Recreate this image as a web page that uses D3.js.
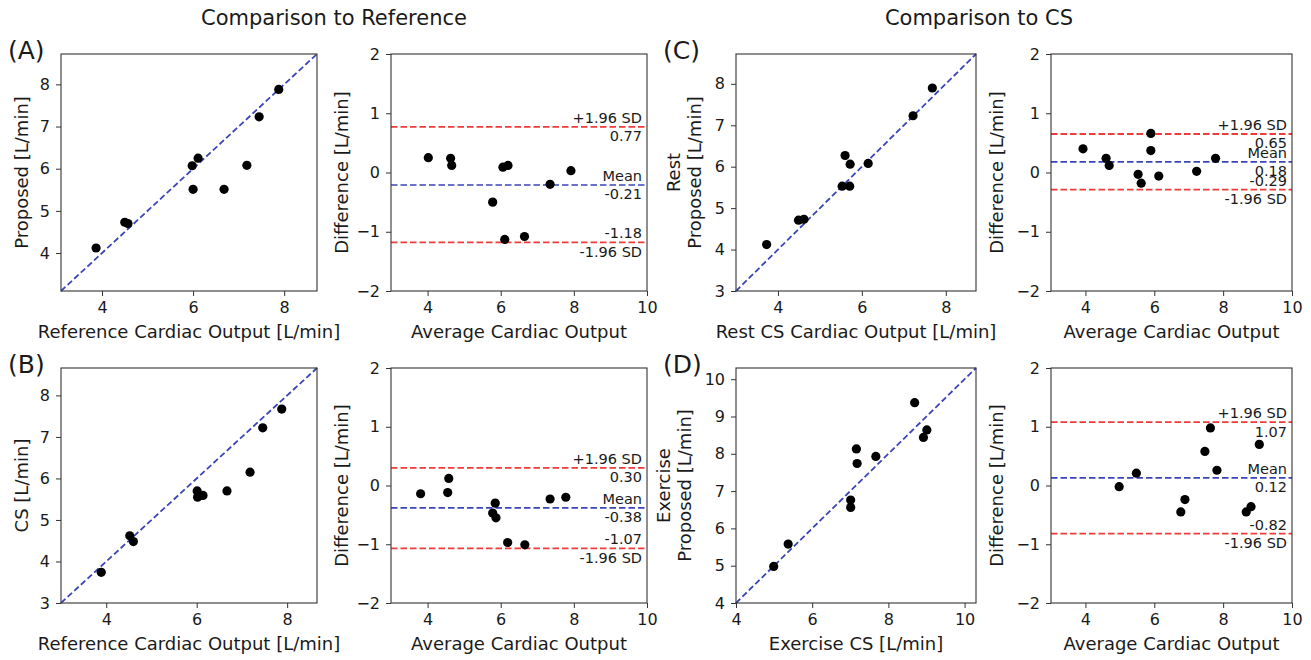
<!DOCTYPE html>
<html><head><meta charset="utf-8">
<script src="https://cdn.jsdelivr.net/npm/d3@7"></script>
<style>
body{margin:0;background:#fff}
text{font-family:"DejaVu Sans",sans-serif;fill:#1a1a1a}
</style>
</head><body>
<svg id="c" width="1311" height="660"></svg>
<script>
// ---------- DATA ----------
const sectionTitles = ["Comparison to Reference", "Comparison to CS"];
const panelLabels = ["(A)", "(B)", "(C)", "(D)"];

// (A) Reference vs Proposed
const scatterA_x = [3.87, 4.50, 4.57, 5.98, 6.11, 6.00, 6.68, 7.18, 7.45, 7.88];
const scatterA_y = [4.12, 4.73, 4.70, 6.07, 6.25, 5.51, 5.51, 6.08, 7.23, 7.88];
const limitsA = [3.1, 8.72];
const xTicksA = [4, 6, 8];
const yTicksA = [4, 5, 6, 7, 8];
const baA_avg = [4.02, 4.63, 4.66, 6.06, 6.20, 5.78, 6.11, 6.65, 7.35, 7.92];
const baA_diff = [0.25, 0.24, 0.12, 0.09, 0.12, -0.50, -1.13, -1.08, -0.20, 0.03];
const baA_stats = [0.77, -0.21, -1.18];
const baA_labels = ["0.77", "-0.21", "-1.18"];

// (B) Reference vs CS
const scatterB_x = [3.89, 4.52, 4.60, 6.01, 6.02, 6.14, 6.67, 7.18, 7.46, 7.88];
const scatterB_y = [3.74, 4.62, 4.48, 5.70, 5.55, 5.59, 5.70, 6.15, 7.22, 7.67];
const limitsB = [3.0, 8.66];
const xTicksB = [4, 6, 8];
const yTicksB = [3, 4, 5, 6, 7, 8];
const baB_avg = [3.81, 4.55, 4.58, 5.85, 5.78, 5.87, 6.19, 6.66, 7.35, 7.78];
const baB_diff = [-0.14, -0.12, 0.12, -0.30, -0.47, -0.55, -0.97, -1.01, -0.23, -0.20];
const baB_stats = [0.30, -0.38, -1.07];
const baB_labels = ["0.30", "-0.38", "-1.07"];

// (C) Rest CS vs Proposed
const scatterC_x = [3.73, 4.49, 4.62, 5.60, 5.72, 6.15, 5.53, 5.71, 7.22, 7.68];
const scatterC_y = [4.12, 4.71, 4.73, 6.27, 6.06, 6.08, 5.53, 5.53, 7.23, 7.90];
const limitsC = [3.0, 8.72];
const xTicksC = [4, 6, 8];
const yTicksC = [3, 4, 5, 6, 7, 8];
const baC_avg = [3.93, 4.60, 4.69, 5.53, 5.62, 5.90, 5.90, 6.13, 7.23, 7.78];
const baC_diff = [0.40, 0.24, 0.12, -0.03, -0.18, 0.66, 0.37, -0.06, 0.02, 0.24];
const baC_stats = [0.65, 0.18, -0.29];
const baC_labels = ["0.65", "0.18", "-0.29"];

// (D) Exercise CS vs Proposed
const scatterD_x = [4.99, 5.37, 7.01, 7.01, 7.16, 7.18, 7.67, 8.69, 8.92, 9.01];
const scatterD_y = [4.98, 5.58, 6.76, 6.56, 8.13, 7.74, 7.93, 9.37, 8.44, 8.64];
const limitsD = [4.0, 10.3];
const xTicksD = [4, 6, 8, 10];
const yTicksD = [4, 5, 6, 7, 8, 9, 10];
const baD_avg = [4.98, 5.48, 6.77, 6.89, 7.47, 7.63, 7.82, 8.67, 8.81, 9.05];
const baD_diff = [-0.02, 0.21, -0.45, -0.24, 0.58, 0.98, 0.26, -0.45, -0.36, 0.70];
const baD_stats = [1.08, 0.13, -0.82];
const baD_labels = ["1.07", "0.12", "-0.82"];

const baXDomain = [3, 10];
const baYDomain = [-2, 2];
const baXTicks = [4, 6, 8, 10];
const baYTicks = [-2, -1, 0, 1, 2];
const baStatNames = ["+1.96 SD", "Mean", "-1.96 SD"];

// ---------- STYLE ----------
const RED = "#ee3b3b", BLUE = "#3a45b8", FRAME = "#333";
const F_TITLE = 21, F_LABEL = 18, F_TICK = 16, F_ANN = 14.5, F_PANEL = 25;

const svg = d3.select("#c");

function styleAxis(g) {
  g.select(".domain").remove();
  g.selectAll(".tick line").attr("stroke", FRAME).attr("stroke-width", 1);
  g.selectAll(".tick text").style("font-size", F_TICK + "px").attr("fill", "#1a1a1a");
}

function frameRect(fr) {
  svg.append("rect").attr("x", fr.x0).attr("y", fr.y0)
    .attr("width", fr.x1 - fr.x0).attr("height", fr.y1 - fr.y0)
    .attr("fill", "none").attr("stroke", FRAME).attr("stroke-width", 1.1);
}

function axes(fr, x, y, xt, yt, xlabel, ylines, yLabelOffset) {
  const gx = svg.append("g").attr("transform", `translate(0,${fr.y1})`)
    .call(d3.axisBottom(x).tickValues(xt).tickSize(5).tickPadding(6).tickFormat(d3.format("d")));
  styleAxis(gx);
  const gy = svg.append("g").attr("transform", `translate(${fr.x0},0)`)
    .call(d3.axisLeft(y).tickValues(yt).tickSize(5).tickPadding(6).tickFormat(d3.format("d")));
  styleAxis(gy);
  svg.append("text").attr("x", (fr.x0 + fr.x1) / 2).attr("y", fr.y1 + 47)
    .attr("text-anchor", "middle").style("font-size", F_LABEL + "px").text(xlabel);
  const cy = (fr.y0 + fr.y1) / 2;
  const n = ylines.length;
  ylines.forEach((t, i) => {
    const bx = fr.x0 - yLabelOffset - (n - 1 - i) * 21;
    svg.append("text").attr("transform", `translate(${bx},${cy}) rotate(-90)`)
      .attr("text-anchor", "middle").style("font-size", F_LABEL + "px").text(t);
  });
}

function scatter(fr, xs, ys, lim, xt, yt, xlabel, ylines, yOff) {
  const x = d3.scaleLinear().domain(lim).range([fr.x0, fr.x1]);
  const y = d3.scaleLinear().domain(lim).range([fr.y1, fr.y0]);
  svg.append("line").attr("x1", x(lim[0])).attr("y1", y(lim[0]))
    .attr("x2", x(lim[1])).attr("y2", y(lim[1]))
    .attr("stroke", BLUE).attr("stroke-width", 1.8).attr("stroke-dasharray", "6,3");
  svg.append("g").selectAll("circle").data(xs).join("circle")
    .attr("cx", (d) => x(d)).attr("cy", (d, i) => y(ys[i])).attr("r", 4.6).attr("fill", "#000");
  frameRect(fr);
  axes(fr, x, y, xt, yt, xlabel, ylines, yOff);
}

function bland(fr, avg, diff, stats, labels, yOff) {
  const x = d3.scaleLinear().domain(baXDomain).range([fr.x0, fr.x1]);
  const y = d3.scaleLinear().domain(baYDomain).range([fr.y1, fr.y0]);
  stats.forEach((v, i) => {
    svg.append("line").attr("x1", fr.x0).attr("x2", fr.x1).attr("y1", y(v)).attr("y2", y(v))
      .attr("stroke", i === 1 ? BLUE : RED).attr("stroke-width", i === 1 ? 1.6 : 1.8)
      .attr("stroke-dasharray", "6.5,3");
  });
  svg.append("g").selectAll("circle").data(avg).join("circle")
    .attr("cx", (d) => x(d)).attr("cy", (d, i) => y(diff[i])).attr("r", 4.6).attr("fill", "#000");
  const tx = fr.x1 - 5;
  stats.forEach((v, i) => {
    const above = i === 2 ? labels[i] : baStatNames[i];
    const below = i === 2 ? baStatNames[i] : labels[i];
    svg.append("text").attr("x", tx).attr("y", y(v) - 4).attr("text-anchor", "end")
      .style("font-size", F_ANN + "px").text(above);
    svg.append("text").attr("x", tx).attr("y", y(v) + 14.5).attr("text-anchor", "end")
      .style("font-size", F_ANN + "px").text(below);
  });
  frameRect(fr);
  axes(fr, x, y, baXTicks, baYTicks, "Average Cardiac Output", ["Difference [L/min]"], yOff);
}

// ---------- LAYOUT ----------
const colA = [61, 317], colBA1 = [391, 647], colC = [736, 976], colBA2 = [1051, 1292];
const rowT = [54, 291], rowB = [368, 603];
const fr = (c, r) => ({ x0: c[0], x1: c[1], y0: r[0], y1: r[1] });

scatter(fr(colA, rowT), scatterA_x, scatterA_y, limitsA, xTicksA, yTicksA,
  "Reference Cardiac Output [L/min]", ["Proposed [L/min]"], 33);
bland(fr(colBA1, rowT), baA_avg, baA_diff, baA_stats, baA_labels, 43);
scatter(fr(colA, rowB), scatterB_x, scatterB_y, limitsB, xTicksB, yTicksB,
  "Reference Cardiac Output [L/min]", ["CS [L/min]"], 33);
bland(fr(colBA1, rowB), baB_avg, baB_diff, baB_stats, baB_labels, 43);
scatter(fr(colC, rowT), scatterC_x, scatterC_y, limitsC, xTicksC, yTicksC,
  "Rest CS Cardiac Output [L/min]", ["Rest", "Proposed [L/min]"], 35);
bland(fr(colBA2, rowT), baC_avg, baC_diff, baC_stats, baC_labels, 48);
scatter(fr(colC, rowB), scatterD_x, scatterD_y, limitsD, xTicksD, yTicksD,
  "Exercise CS [L/min]", ["Exercise", "Proposed [L/min]"], 45);
bland(fr(colBA2, rowB), baD_avg, baD_diff, baD_stats, baD_labels, 48);

// titles & panel labels
[334, 979].forEach((cx, i) => {
  svg.append("text").attr("x", cx).attr("y", 25).attr("text-anchor", "middle")
    .style("font-size", F_TITLE + "px").text(sectionTitles[i]);
});
[[8, 59], [8, 373], [663, 59], [663, 373]].forEach((p, i) => {
  svg.append("text").attr("x", p[0]).attr("y", p[1]).style("font-size", F_PANEL + "px").text(panelLabels[i]);
});
</script>
</body></html>
